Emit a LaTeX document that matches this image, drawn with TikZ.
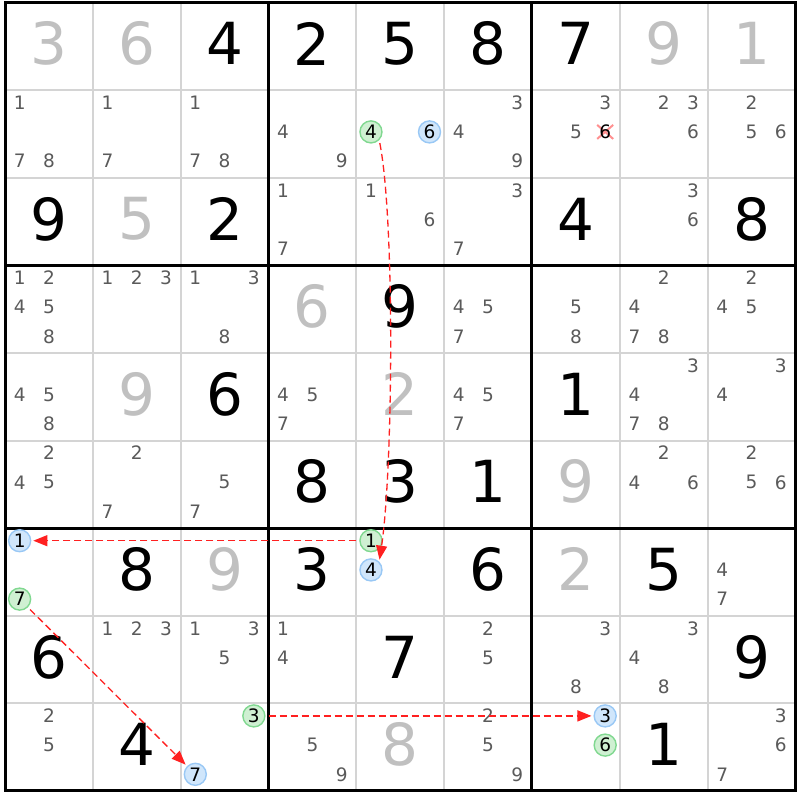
\documentclass[tikz,border=0pt]{standalone}
\usepackage{fontspec}
\setmainfont{DejaVu Sans}
\usetikzlibrary{arrows.meta}
\definecolor{solvedgray}{HTML}{C0C0C0}
\definecolor{candgray}{HTML}{5A5A5A}
\definecolor{thingray}{HTML}{D4D4D4}
\definecolor{ongreen}{HTML}{CFF0D2}
\definecolor{ongreenline}{HTML}{80D890}
\definecolor{offblue}{HTML}{D0E6FB}
\definecolor{offblueline}{HTML}{99C8F5}
\definecolor{linkred}{HTML}{FF2020}
\definecolor{crosspink}{HTML}{FF9090}
\newcommand{\cellw}{87.83}
\newcommand{\cellh}{87.6}
\newcommand{\candpos}[3]{%
  \pgfmathsetmacro\cx{5+(#2-1)*\cellw+\cellw*(2*mod(#3-1,3)+1)/6}%
  \pgfmathsetmacro\cy{0.5+(#1-1)*\cellh+\cellh*(2*int((#3-1)/3)+1)/6}}
\newcommand{\cands}[3]{\foreach \d in {#3}{\candpos{#1}{#2}{\d}\node[cand] (p#1#2\d) at (\cx,\cy) {\d};}}
\newcommand{\givendigit}[3]{\node[given] (v#1#2) at ({5+(#2-0.5)*\cellw},{2.5+(#1-0.5)*\cellh}) {#3};}
\newcommand{\solveddigit}[3]{\node[given,text=solvedgray] (v#1#2) at ({5+(#2-0.5)*\cellw},{2.5+(#1-0.5)*\cellh}) {#3};}
\newcommand{\markcand}[5]{\candpos{#1}{#2}{#3}\node[#4] (#5) at (\cx,\cy) {#3};}
\tikzset{
  thinline/.style={draw=thingray, line width=2pt},
  thickline/.style={draw=black, line width=3pt},
  given/.style={font=\fontsize{58}{58}\selectfont, inner sep=0pt, yshift=2.5pt},
  cand/.style={font=\fontsize{18.5}{18.5}\selectfont, text=candgray, inner sep=0pt},
  oncand/.style={circle, draw=ongreenline, fill=ongreen, line width=1.4pt, minimum size=22pt, inner sep=0pt, font=\fontsize{18.5}{18.5}\selectfont},
  offcand/.style={circle, draw=offblueline, fill=offblue, line width=1.4pt, minimum size=22pt, inner sep=0pt, font=\fontsize{18.5}{18.5}\selectfont},
  link/.style={draw=linkred, line width=1.3pt, dash pattern=on 7pt off 4pt, -{Triangle[length=14pt,width=11pt]}, shorten <=3pt, shorten >=2pt},
  crossmark/.style={draw=crosspink, line width=2pt}
}
\begin{document}
\begin{tikzpicture}[x=1pt,y=-1pt]
\useasboundingbox (0,0) rectangle (800,800);
\fill[white] (0,0) rectangle (800,800);
\foreach \i in {1,2,4,5,7,8} {
  \draw[thinline] ({5+\i*\cellw},2.5) -- ({5+\i*\cellw},{2.5+9*\cellh});
  \draw[thinline] (5,{2.5+\i*\cellh}) -- ({5+9*\cellw},{2.5+\i*\cellh});
}
\foreach \i in {3,6} {
  \draw[thickline] ({5+\i*\cellw},2.5) -- ({5+\i*\cellw},{2.5+9*\cellh});
  \draw[thickline] (5,{2.5+\i*\cellh}) -- ({5+9*\cellw},{2.5+\i*\cellh});
}
\draw[thickline] (5,2.5) rectangle ({5+9*\cellw},{2.5+9*\cellh});

\solveddigit{1}{1}{3} \solveddigit{1}{2}{6} \givendigit{1}{3}{4}
\givendigit{1}{4}{2} \givendigit{1}{5}{5} \givendigit{1}{6}{8}
\givendigit{1}{7}{7} \solveddigit{1}{8}{9} \solveddigit{1}{9}{1}
\cands{2}{1}{1,7,8} \cands{2}{2}{1,7} \cands{2}{3}{1,7,8}
\cands{2}{4}{4,9} \cands{2}{6}{3,4,9}
\cands{2}{7}{3,5} \cands{2}{8}{2,3,6} \cands{2}{9}{2,5,6}
\givendigit{3}{1}{9} \solveddigit{3}{2}{5} \givendigit{3}{3}{2}
\cands{3}{4}{1,7} \cands{3}{5}{1,6} \cands{3}{6}{3,7}
\givendigit{3}{7}{4} \cands{3}{8}{3,6} \givendigit{3}{9}{8}
\cands{4}{1}{1,2,4,5,8} \cands{4}{2}{1,2,3} \cands{4}{3}{1,3,8}
\solveddigit{4}{4}{6} \givendigit{4}{5}{9} \cands{4}{6}{4,5,7}
\cands{4}{7}{5,8} \cands{4}{8}{2,4,7,8} \cands{4}{9}{2,4,5}
\cands{5}{1}{4,5,8} \solveddigit{5}{2}{9} \givendigit{5}{3}{6}
\cands{5}{4}{4,5,7} \solveddigit{5}{5}{2} \cands{5}{6}{4,5,7}
\givendigit{5}{7}{1} \cands{5}{8}{3,4,7,8} \cands{5}{9}{3,4}
\cands{6}{1}{2,4,5} \cands{6}{2}{2,7} \cands{6}{3}{5,7}
\givendigit{6}{4}{8} \givendigit{6}{5}{3} \givendigit{6}{6}{1}
\solveddigit{6}{7}{9} \cands{6}{8}{2,4,6} \cands{6}{9}{2,5,6}
\givendigit{7}{2}{8} \solveddigit{7}{3}{9}
\givendigit{7}{4}{3} \givendigit{7}{6}{6}
\solveddigit{7}{7}{2} \givendigit{7}{8}{5} \cands{7}{9}{4,7}
\givendigit{8}{1}{6} \cands{8}{2}{1,2,3} \cands{8}{3}{1,3,5}
\cands{8}{4}{1,4} \givendigit{8}{5}{7} \cands{8}{6}{2,5}
\cands{8}{7}{3,8} \cands{8}{8}{3,4,8} \givendigit{8}{9}{9}
\cands{9}{1}{2,5} \givendigit{9}{2}{4}
\cands{9}{4}{5,9} \solveddigit{9}{5}{8} \cands{9}{6}{2,5,9}
\givendigit{9}{8}{1} \cands{9}{9}{3,6,7}

\candpos{2}{7}{6}
\draw[crossmark] (\cx-8,\cy-7) -- (\cx+8,\cy+7) (\cx-8,\cy+7) -- (\cx+8,\cy-7);
\node[cand, text=black] (p276) at (\cx,\cy) {6};

\markcand{2}{5}{4}{oncand}{g1}
\markcand{2}{5}{6}{offcand}{b0}
\markcand{7}{5}{4}{offcand}{b1}
\markcand{7}{5}{1}{oncand}{g2}
\markcand{7}{1}{1}{offcand}{b2}
\markcand{7}{1}{7}{oncand}{g3}
\markcand{9}{3}{7}{offcand}{b3}
\markcand{9}{3}{3}{oncand}{g4}
\markcand{9}{7}{3}{offcand}{b4}
\markcand{9}{7}{6}{oncand}{g0}

\draw[link] (g1.south east) .. controls (395,220) and (393,470) .. (b1.north east);
\draw[link] (g2) -- (b2);
\draw[link] (g3) -- (b3);
\draw[link] (g4) -- (b4);
\end{tikzpicture}
\end{document}
